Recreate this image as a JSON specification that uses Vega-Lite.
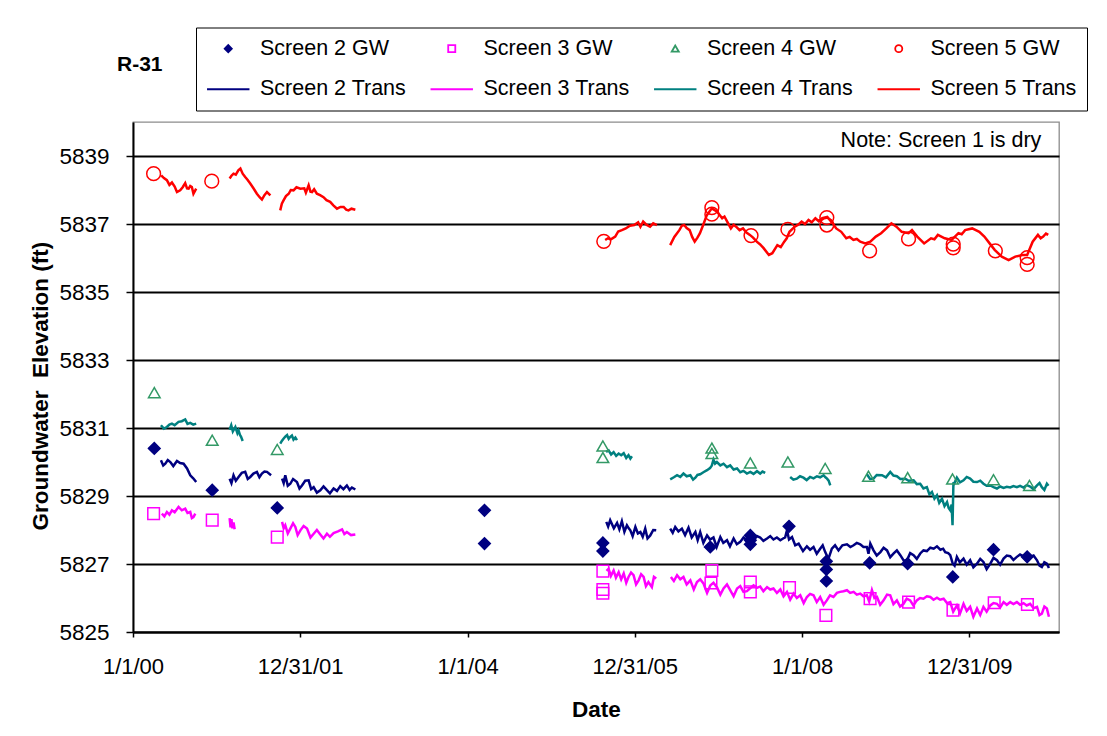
{
"$schema": "https://vega.github.io/schema/vega-lite/v6.json",
"width": 926, "height": 510,
"autosize": {"type": "none"},
"padding": {"left": 133, "top": 122, "right": 48, "bottom": 104},
"background": "white",
"config": {"font": "Liberation Sans", "view": {"stroke": "#8c8c8c", "strokeWidth": 1.3},
 "axisX": {"grid": false, "labelFlush": false, "labelOverlap": false, "domainColor": "black", "domainWidth": 2, "tickColor": "black", "tickWidth": 1.5, "tickSize": 5, "labelFont": "Liberation Sans", "labelFontSize": 22, "labelColor": "black", "labelPadding": 19, "titleFont": "Liberation Sans", "titleFontSize": 22.5, "titleFontWeight": "bold", "titleColor": "black", "titleY": 84, "titleBaseline": "alphabetic"},
 "axisY": {"grid": true, "gridColor": "black", "gridWidth": 1.8, "domainColor": "black", "domainWidth": 2, "tickColor": "black", "tickWidth": 1.5, "tickSize": 7, "labelFont": "Liberation Sans", "labelFontSize": 22.5, "labelColor": "black", "labelPadding": 17, "titleFont": "Liberation Sans", "titleFontSize": 22.5, "titleFontWeight": "bold", "titleColor": "black", "titleX": -86, "titleY": 408, "titleAlign": "left", "titleBaseline": "alphabetic", "titleAngle": 270}
},
"title": {"text": "R-31", "anchor": "start", "frame": "group", "dx": -16, "offset": -64.5, "fontSize": 21, "fontWeight": "bold", "color": "black", "font": "Liberation Sans", "baseline": "alphabetic"},
"datasets": {
"gw": [
{"s":"Screen 2 GW","d":"2000-04-03","v":5830.40},{"s":"Screen 2 GW","d":"2000-12-12","v":5829.17},{"s":"Screen 2 GW","d":"2001-09-22","v":5828.65},{"s":"Screen 2 GW","d":"2004-03-15","v":5828.58},{"s":"Screen 2 GW","d":"2004-03-15","v":5827.60},{"s":"Screen 2 GW","d":"2005-08-14","v":5827.62},{"s":"Screen 2 GW","d":"2005-08-14","v":5827.38},{"s":"Screen 2 GW","d":"2006-11-26","v":5827.50},{"s":"Screen 2 GW","d":"2007-05-20","v":5827.84},{"s":"Screen 2 GW","d":"2007-05-20","v":5827.70},{"s":"Screen 2 GW","d":"2007-05-20","v":5827.58},{"s":"Screen 2 GW","d":"2007-11-05","v":5828.11},{"s":"Screen 2 GW","d":"2008-04-16","v":5827.08},{"s":"Screen 2 GW","d":"2008-04-16","v":5826.84},{"s":"Screen 2 GW","d":"2008-04-16","v":5826.50},{"s":"Screen 2 GW","d":"2008-10-22","v":5827.03},{"s":"Screen 2 GW","d":"2009-04-06","v":5827.01},{"s":"Screen 2 GW","d":"2009-10-20","v":5826.62},{"s":"Screen 2 GW","d":"2010-04-16","v":5827.42},{"s":"Screen 2 GW","d":"2010-09-10","v":5827.21},
{"s":"Screen 3 GW","d":"2000-03-31","v":5828.48},{"s":"Screen 3 GW","d":"2000-12-12","v":5828.29},{"s":"Screen 3 GW","d":"2001-09-22","v":5827.79},{"s":"Screen 3 GW","d":"2005-08-14","v":5826.79},{"s":"Screen 3 GW","d":"2005-08-14","v":5826.25},{"s":"Screen 3 GW","d":"2005-08-14","v":5826.14},{"s":"Screen 3 GW","d":"2006-12-03","v":5826.81},{"s":"Screen 3 GW","d":"2006-11-29","v":5826.44},{"s":"Screen 3 GW","d":"2007-05-20","v":5826.47},{"s":"Screen 3 GW","d":"2007-05-20","v":5826.18},{"s":"Screen 3 GW","d":"2007-11-07","v":5826.31},{"s":"Screen 3 GW","d":"2008-04-14","v":5825.49},{"s":"Screen 3 GW","d":"2008-10-24","v":5825.98},{"s":"Screen 3 GW","d":"2009-04-10","v":5825.88},{"s":"Screen 3 GW","d":"2009-10-21","v":5825.64},{"s":"Screen 3 GW","d":"2010-04-19","v":5825.86},{"s":"Screen 3 GW","d":"2010-09-11","v":5825.81},
{"s":"Screen 4 GW","d":"2000-04-03","v":5832.04},{"s":"Screen 4 GW","d":"2000-12-12","v":5830.64},{"s":"Screen 4 GW","d":"2001-09-22","v":5830.37},{"s":"Screen 4 GW","d":"2005-08-14","v":5830.47},{"s":"Screen 4 GW","d":"2005-08-14","v":5830.13},{"s":"Screen 4 GW","d":"2006-12-03","v":5830.41},{"s":"Screen 4 GW","d":"2006-12-03","v":5830.25},{"s":"Screen 4 GW","d":"2007-05-20","v":5829.97},{"s":"Screen 4 GW","d":"2007-10-31","v":5830.00},{"s":"Screen 4 GW","d":"2008-04-11","v":5829.81},{"s":"Screen 4 GW","d":"2008-10-17","v":5829.58},{"s":"Screen 4 GW","d":"2009-04-06","v":5829.54},{"s":"Screen 4 GW","d":"2009-10-19","v":5829.50},{"s":"Screen 4 GW","d":"2010-04-16","v":5829.48},{"s":"Screen 4 GW","d":"2010-09-20","v":5829.31}
],
"gw5": [
{"s":"Screen 5 GW","d":"2000-03-31","v":5838.48},{"s":"Screen 5 GW","d":"2000-12-10","v":5838.26},{"s":"Screen 5 GW","d":"2005-08-18","v":5836.49},{"s":"Screen 5 GW","d":"2006-12-03","v":5837.48},{"s":"Screen 5 GW","d":"2006-12-03","v":5837.29},{"s":"Screen 5 GW","d":"2007-05-23","v":5836.66},{"s":"Screen 5 GW","d":"2007-10-31","v":5836.84},{"s":"Screen 5 GW","d":"2008-04-18","v":5837.19},{"s":"Screen 5 GW","d":"2008-04-18","v":5836.97},{"s":"Screen 5 GW","d":"2008-10-22","v":5836.21},{"s":"Screen 5 GW","d":"2009-04-10","v":5836.56},{"s":"Screen 5 GW","d":"2009-10-22","v":5836.41},{"s":"Screen 5 GW","d":"2009-10-22","v":5836.30},{"s":"Screen 5 GW","d":"2010-04-24","v":5836.21},{"s":"Screen 5 GW","d":"2010-09-10","v":5836.01},{"s":"Screen 5 GW","d":"2010-09-10","v":5835.81}
],
"s2t": [
{"d":"2000-05-02","v":5830.05,"g":1},{"d":"2000-05-12","v":5829.90,"g":1},{"d":"2000-05-21","v":5829.95,"g":1},{"d":"2000-06-01","v":5830.06,"g":1},{"d":"2000-06-12","v":5830.00,"g":1},{"d":"2000-06-25","v":5829.88,"g":1},{"d":"2000-07-11","v":5830.03,"g":1},{"d":"2000-07-25","v":5829.97,"g":1},{"d":"2000-08-09","v":5829.95,"g":1},{"d":"2000-08-24","v":5829.81,"g":1},{"d":"2000-09-07","v":5829.61,"g":1},{"d":"2000-09-20","v":5829.52,"g":1},{"d":"2000-10-03","v":5829.41,"g":1},
{"d":"2001-02-26","v":5829.51,"g":2},{"d":"2001-03-06","v":5829.38,"g":2},{"d":"2001-03-15","v":5829.61,"g":2},{"d":"2001-03-25","v":5829.45,"g":2},{"d":"2001-04-06","v":5829.56,"g":2},{"d":"2001-04-20","v":5829.68,"g":2},{"d":"2001-05-05","v":5829.71,"g":2},{"d":"2001-05-16","v":5829.50,"g":2},{"d":"2001-05-27","v":5829.56,"g":2},{"d":"2001-06-10","v":5829.66,"g":2},{"d":"2001-06-25","v":5829.71,"g":2},{"d":"2001-07-06","v":5829.55,"g":2},{"d":"2001-07-17","v":5829.66,"g":2},{"d":"2001-07-28","v":5829.72,"g":2},{"d":"2001-08-08","v":5829.71,"g":2},{"d":"2001-08-26","v":5829.61,"g":2},
{"d":"2001-10-13","v":5829.51,"g":3},{"d":"2001-10-20","v":5829.38,"g":3},{"d":"2001-10-27","v":5829.61,"g":3},{"d":"2001-11-07","v":5829.30,"g":3},{"d":"2001-11-18","v":5829.36,"g":3},{"d":"2001-11-30","v":5829.50,"g":3},{"d":"2001-12-17","v":5829.41,"g":3},{"d":"2001-12-28","v":5829.22,"g":3},{"d":"2002-01-08","v":5829.31,"g":3},{"d":"2002-01-22","v":5829.45,"g":3},{"d":"2002-02-06","v":5829.46,"g":3},{"d":"2002-02-17","v":5829.20,"g":3},{"d":"2002-02-28","v":5829.26,"g":3},{"d":"2002-03-14","v":5829.10,"g":3},{"d":"2002-03-29","v":5829.17,"g":3},{"d":"2002-04-12","v":5829.28,"g":3},{"d":"2002-04-27","v":5829.17,"g":3},{"d":"2002-05-10","v":5829.08,"g":3},{"d":"2002-05-26","v":5829.22,"g":3},{"d":"2002-06-10","v":5829.15,"g":3},{"d":"2002-06-24","v":5829.29,"g":3},{"d":"2002-07-08","v":5829.20,"g":3},{"d":"2002-07-23","v":5829.31,"g":3},{"d":"2002-08-04","v":5829.18,"g":3},{"d":"2002-08-14","v":5829.25,"g":3},{"d":"2002-08-29","v":5829.19,"g":3},
{"d":"2005-08-29","v":5828.24,"g":4},{"d":"2005-09-06","v":5828.10,"g":4},{"d":"2005-09-15","v":5828.29,"g":4},{"d":"2005-10-01","v":5828.05,"g":4},{"d":"2005-10-15","v":5828.21,"g":4},{"d":"2005-10-25","v":5828.02,"g":4},{"d":"2005-11-05","v":5828.26,"g":4},{"d":"2005-11-16","v":5827.95,"g":4},{"d":"2005-11-27","v":5828.14,"g":4},{"d":"2005-12-05","v":5828.05,"g":4},{"d":"2005-12-12","v":5827.99,"g":4},{"d":"2005-12-22","v":5827.82,"g":4},{"d":"2006-01-03","v":5828.09,"g":4},{"d":"2006-01-14","v":5827.90,"g":4},{"d":"2006-01-25","v":5827.94,"g":4},{"d":"2006-02-04","v":5827.80,"g":4},{"d":"2006-02-15","v":5828.04,"g":4},{"d":"2006-02-25","v":5827.75,"g":4},{"d":"2006-03-09","v":5827.84,"g":4},{"d":"2006-03-22","v":5828.00,"g":4},{"d":"2006-04-04","v":5827.99,"g":4},
{"d":"2006-06-04","v":5828.04,"g":5},{"d":"2006-06-15","v":5827.92,"g":5},{"d":"2006-06-26","v":5828.09,"g":5},{"d":"2006-07-10","v":5827.96,"g":5},{"d":"2006-07-25","v":5828.04,"g":5},{"d":"2006-08-08","v":5827.85,"g":5},{"d":"2006-08-23","v":5828.07,"g":5},{"d":"2006-09-06","v":5827.78,"g":5},{"d":"2006-09-22","v":5827.94,"g":5},{"d":"2006-10-02","v":5827.70,"g":5},{"d":"2006-10-13","v":5827.94,"g":5},{"d":"2006-10-27","v":5827.62,"g":5},{"d":"2006-11-12","v":5827.84,"g":5},{"d":"2006-11-25","v":5827.72,"g":5},{"d":"2006-12-10","v":5827.78,"g":5},{"d":"2006-12-24","v":5827.50,"g":5},{"d":"2007-01-09","v":5827.79,"g":5},{"d":"2007-01-22","v":5827.62,"g":5},{"d":"2007-02-07","v":5827.70,"g":5},{"d":"2007-02-20","v":5827.52,"g":5},{"d":"2007-03-08","v":5827.75,"g":5},{"d":"2007-03-22","v":5827.58,"g":5},{"d":"2007-04-06","v":5827.65,"g":5},{"d":"2007-04-20","v":5827.78,"g":5},{"d":"2007-05-05","v":5827.70,"g":5},{"d":"2007-05-19","v":5827.55,"g":5},{"d":"2007-06-03","v":5827.70,"g":5},{"d":"2007-06-18","v":5827.82,"g":5},{"d":"2007-07-02","v":5827.78,"g":5},{"d":"2007-07-16","v":5827.68,"g":5},{"d":"2007-08-01","v":5827.75,"g":5},{"d":"2007-08-15","v":5827.82,"g":5},{"d":"2007-08-29","v":5827.72,"g":5},{"d":"2007-09-13","v":5827.78,"g":5},{"d":"2007-09-28","v":5827.70,"g":5},{"d":"2007-10-10","v":5827.75,"g":5},{"d":"2007-10-19","v":5827.78,"g":5},{"d":"2007-10-27","v":5827.99,"g":5},{"d":"2007-11-05","v":5827.72,"g":5},{"d":"2007-11-18","v":5827.79,"g":5},{"d":"2007-12-02","v":5827.55,"g":5},{"d":"2007-12-17","v":5827.60,"g":5},{"d":"2008-01-05","v":5827.38,"g":5},{"d":"2008-01-22","v":5827.52,"g":5},{"d":"2008-02-05","v":5827.42,"g":5},{"d":"2008-02-20","v":5827.50,"g":5},{"d":"2008-03-05","v":5827.30,"g":5},{"d":"2008-03-20","v":5827.45,"g":5},{"d":"2008-03-31","v":5827.55,"g":5},{"d":"2008-04-11","v":5827.35,"g":5},{"d":"2008-04-25","v":5827.15,"g":5},{"d":"2008-05-10","v":5827.45,"g":5},{"d":"2008-05-24","v":5827.55,"g":5},{"d":"2008-06-08","v":5827.40,"g":5},{"d":"2008-06-25","v":5827.55,"g":5},{"d":"2008-07-15","v":5827.58,"g":5},{"d":"2008-07-30","v":5827.50,"g":5},{"d":"2008-08-13","v":5827.55,"g":5},{"d":"2008-08-27","v":5827.62,"g":5},{"d":"2008-09-11","v":5827.58,"g":5},{"d":"2008-09-25","v":5827.50,"g":5},{"d":"2008-10-10","v":5827.50,"g":5},{"d":"2008-10-17","v":5827.30,"g":5},{"d":"2008-10-25","v":5827.60,"g":5},{"d":"2008-11-08","v":5827.40,"g":5},{"d":"2008-11-22","v":5827.25,"g":5},{"d":"2008-12-08","v":5827.35,"g":5},{"d":"2008-12-22","v":5827.48,"g":5},{"d":"2009-01-06","v":5827.40,"g":5},{"d":"2009-01-20","v":5827.20,"g":5},{"d":"2009-02-04","v":5827.31,"g":5},{"d":"2009-02-18","v":5827.40,"g":5},{"d":"2009-03-05","v":5827.26,"g":5},{"d":"2009-03-20","v":5827.10,"g":5},{"d":"2009-04-03","v":5827.11,"g":5},{"d":"2009-04-17","v":5827.32,"g":5},{"d":"2009-05-02","v":5827.26,"g":5},{"d":"2009-05-16","v":5827.15,"g":5},{"d":"2009-05-31","v":5827.31,"g":5},{"d":"2009-06-14","v":5827.40,"g":5},{"d":"2009-06-29","v":5827.38,"g":5},{"d":"2009-07-14","v":5827.48,"g":5},{"d":"2009-07-29","v":5827.45,"g":5},{"d":"2009-08-12","v":5827.52,"g":5},{"d":"2009-08-27","v":5827.42,"g":5},{"d":"2009-09-08","v":5827.45,"g":5},{"d":"2009-09-17","v":5827.35,"g":5},{"d":"2009-09-30","v":5827.32,"g":5},{"d":"2009-10-09","v":5827.26,"g":5},{"d":"2009-10-20","v":5827.01,"g":5},{"d":"2009-10-28","v":5826.95,"g":5},{"d":"2009-11-07","v":5827.21,"g":5},{"d":"2009-11-20","v":5827.05,"g":5},{"d":"2009-12-06","v":5827.16,"g":5},{"d":"2009-12-20","v":5826.98,"g":5},{"d":"2010-01-04","v":5827.11,"g":5},{"d":"2010-01-18","v":5826.90,"g":5},{"d":"2010-02-03","v":5827.01,"g":5},{"d":"2010-02-17","v":5827.15,"g":5},{"d":"2010-03-03","v":5827.06,"g":5},{"d":"2010-03-17","v":5826.85,"g":5},{"d":"2010-04-02","v":5827.01,"g":5},{"d":"2010-04-16","v":5827.18,"g":5},{"d":"2010-05-01","v":5827.11,"g":5},{"d":"2010-05-15","v":5826.98,"g":5},{"d":"2010-05-30","v":5827.16,"g":5},{"d":"2010-06-13","v":5827.25,"g":5},{"d":"2010-06-28","v":5827.23,"g":5},{"d":"2010-07-12","v":5827.12,"g":5},{"d":"2010-07-27","v":5827.21,"g":5},{"d":"2010-08-10","v":5827.28,"g":5},{"d":"2010-08-25","v":5827.23,"g":5},{"d":"2010-09-08","v":5827.15,"g":5},{"d":"2010-09-23","v":5827.21,"g":5},{"d":"2010-10-08","v":5827.25,"g":5},{"d":"2010-10-23","v":5827.11,"g":5},{"d":"2010-11-03","v":5826.95,"g":5},{"d":"2010-11-13","v":5826.91,"g":5},{"d":"2010-11-24","v":5827.05,"g":5},{"d":"2010-12-05","v":5827.01,"g":5},{"d":"2010-12-14","v":5826.88,"g":5}
],
"s3t": [
{"d":"2000-05-06","v":5828.48,"g":1},{"d":"2000-05-17","v":5828.40,"g":1},{"d":"2000-05-28","v":5828.53,"g":1},{"d":"2000-06-08","v":5828.45,"g":1},{"d":"2000-06-19","v":5828.58,"g":1},{"d":"2000-07-01","v":5828.52,"g":1},{"d":"2000-07-18","v":5828.68,"g":1},{"d":"2000-08-01","v":5828.58,"g":1},{"d":"2000-08-16","v":5828.63,"g":1},{"d":"2000-08-26","v":5828.50,"g":1},{"d":"2000-09-07","v":5828.53,"g":1},{"d":"2000-09-14","v":5828.35,"g":1},{"d":"2000-09-21","v":5828.38,"g":1},{"d":"2000-09-29","v":5828.48,"g":1},
{"d":"2001-02-26","v":5828.35,"g":2},{"d":"2001-03-02","v":5828.08,"g":2},{"d":"2001-03-06","v":5828.32,"g":2},{"d":"2001-03-10","v":5828.05,"g":2},{"d":"2001-03-15","v":5828.22,"g":2},{"d":"2001-03-20","v":5828.02,"g":2},
{"d":"2001-10-13","v":5828.24,"g":3},{"d":"2001-10-20","v":5828.05,"g":3},{"d":"2001-10-27","v":5828.14,"g":3},{"d":"2001-11-07","v":5827.90,"g":3},{"d":"2001-11-18","v":5828.04,"g":3},{"d":"2001-11-30","v":5828.20,"g":3},{"d":"2001-12-10","v":5828.09,"g":3},{"d":"2001-12-20","v":5827.85,"g":3},{"d":"2002-01-01","v":5827.99,"g":3},{"d":"2002-01-15","v":5828.12,"g":3},{"d":"2002-01-30","v":5828.04,"g":3},{"d":"2002-02-14","v":5827.78,"g":3},{"d":"2002-02-28","v":5827.89,"g":3},{"d":"2002-03-14","v":5828.00,"g":3},{"d":"2002-03-29","v":5827.87,"g":3},{"d":"2002-04-12","v":5827.75,"g":3},{"d":"2002-04-27","v":5827.89,"g":3},{"d":"2002-05-10","v":5827.80,"g":3},{"d":"2002-05-26","v":5827.91,"g":3},{"d":"2002-06-14","v":5827.96,"g":3},{"d":"2002-07-02","v":5828.02,"g":3},{"d":"2002-07-12","v":5827.88,"g":3},{"d":"2002-07-23","v":5827.94,"g":3},{"d":"2002-08-10","v":5827.85,"g":3},{"d":"2002-08-29","v":5827.87,"g":3},
{"d":"2005-08-30","v":5826.80,"g":4},{"d":"2005-09-08","v":5826.86,"g":4},{"d":"2005-09-18","v":5826.65,"g":4},{"d":"2005-09-30","v":5826.81,"g":4},{"d":"2005-10-10","v":5826.60,"g":4},{"d":"2005-10-22","v":5826.76,"g":4},{"d":"2005-11-02","v":5826.55,"g":4},{"d":"2005-11-13","v":5826.72,"g":4},{"d":"2005-11-24","v":5826.45,"g":4},{"d":"2005-12-04","v":5826.62,"g":4},{"d":"2005-12-15","v":5826.75,"g":4},{"d":"2005-12-26","v":5826.67,"g":4},{"d":"2006-01-06","v":5826.40,"g":4},{"d":"2006-01-17","v":5826.52,"g":4},{"d":"2006-01-28","v":5826.70,"g":4},{"d":"2006-02-08","v":5826.62,"g":4},{"d":"2006-02-18","v":5826.35,"g":4},{"d":"2006-03-01","v":5826.47,"g":4},{"d":"2006-03-16","v":5826.32,"g":4},{"d":"2006-03-25","v":5826.62,"g":4},{"d":"2006-04-04","v":5826.57,"g":4},
{"d":"2006-06-07","v":5826.62,"g":5},{"d":"2006-06-20","v":5826.50,"g":5},{"d":"2006-07-04","v":5826.67,"g":5},{"d":"2006-07-18","v":5826.55,"g":5},{"d":"2006-08-01","v":5826.62,"g":5},{"d":"2006-08-15","v":5826.40,"g":5},{"d":"2006-08-31","v":5826.52,"g":5},{"d":"2006-09-15","v":5826.25,"g":5},{"d":"2006-09-29","v":5826.47,"g":5},{"d":"2006-10-13","v":5826.55,"g":5},{"d":"2006-10-28","v":5826.42,"g":5},{"d":"2006-11-12","v":5826.15,"g":5},{"d":"2006-11-26","v":5826.37,"g":5},{"d":"2006-12-10","v":5826.45,"g":5},{"d":"2006-12-25","v":5826.32,"g":5},{"d":"2007-01-09","v":5826.10,"g":5},{"d":"2007-01-23","v":5826.28,"g":5},{"d":"2007-02-07","v":5826.40,"g":5},{"d":"2007-02-21","v":5826.23,"g":5},{"d":"2007-03-08","v":5826.05,"g":5},{"d":"2007-03-23","v":5826.28,"g":5},{"d":"2007-04-06","v":5826.35,"g":5},{"d":"2007-04-20","v":5826.18,"g":5},{"d":"2007-05-05","v":5826.20,"g":5},{"d":"2007-06-03","v":5826.37,"g":5},{"d":"2007-06-18","v":5826.30,"g":5},{"d":"2007-07-02","v":5826.34,"g":5},{"d":"2007-07-16","v":5826.20,"g":5},{"d":"2007-08-01","v":5826.32,"g":5},{"d":"2007-08-15","v":5826.25,"g":5},{"d":"2007-08-29","v":5826.28,"g":5},{"d":"2007-09-13","v":5826.15,"g":5},{"d":"2007-09-28","v":5826.25,"g":5},{"d":"2007-10-12","v":5826.05,"g":5},{"d":"2007-10-27","v":5826.18,"g":5},{"d":"2007-11-10","v":5825.95,"g":5},{"d":"2007-11-25","v":5826.13,"g":5},{"d":"2007-12-09","v":5826.00,"g":5},{"d":"2007-12-24","v":5826.08,"g":5},{"d":"2008-01-08","v":5825.85,"g":5},{"d":"2008-01-22","v":5826.03,"g":5},{"d":"2008-02-05","v":5826.12,"g":5},{"d":"2008-02-20","v":5826.08,"g":5},{"d":"2008-03-05","v":5825.88,"g":5},{"d":"2008-03-20","v":5826.03,"g":5},{"d":"2008-04-04","v":5825.80,"g":5},{"d":"2008-04-18","v":5825.93,"g":5},{"d":"2008-05-02","v":5826.08,"g":5},{"d":"2008-05-17","v":5826.03,"g":5},{"d":"2008-06-01","v":5826.15,"g":5},{"d":"2008-06-15","v":5826.18,"g":5},{"d":"2008-06-30","v":5826.20,"g":5},{"d":"2008-07-15","v":5826.23,"g":5},{"d":"2008-07-29","v":5826.15,"g":5},{"d":"2008-08-13","v":5826.18,"g":5},{"d":"2008-08-27","v":5826.10,"g":5},{"d":"2008-09-11","v":5826.13,"g":5},{"d":"2008-09-25","v":5826.05,"g":5},{"d":"2008-10-10","v":5826.08,"g":5},{"d":"2008-10-20","v":5825.90,"g":5},{"d":"2008-11-01","v":5826.23,"g":5},{"d":"2008-11-12","v":5826.00,"g":5},{"d":"2008-11-23","v":5826.03,"g":5},{"d":"2008-12-07","v":5825.80,"g":5},{"d":"2008-12-22","v":5825.93,"g":5},{"d":"2009-01-06","v":5826.10,"g":5},{"d":"2009-01-20","v":5826.08,"g":5},{"d":"2009-02-03","v":5825.82,"g":5},{"d":"2009-02-18","v":5825.93,"g":5},{"d":"2009-03-04","v":5825.75,"g":5},{"d":"2009-03-19","v":5825.83,"g":5},{"d":"2009-04-02","v":5825.98,"g":5},{"d":"2009-04-17","v":5825.93,"g":5},{"d":"2009-05-01","v":5825.78,"g":5},{"d":"2009-05-16","v":5825.93,"g":5},{"d":"2009-05-30","v":5826.00,"g":5},{"d":"2009-06-14","v":5825.98,"g":5},{"d":"2009-06-29","v":5826.05,"g":5},{"d":"2009-07-14","v":5826.03,"g":5},{"d":"2009-07-28","v":5825.95,"g":5},{"d":"2009-08-12","v":5826.01,"g":5},{"d":"2009-08-26","v":5825.95,"g":5},{"d":"2009-09-10","v":5825.98,"g":5},{"d":"2009-09-25","v":5825.85,"g":5},{"d":"2009-10-09","v":5825.88,"g":5},{"d":"2009-10-22","v":5825.60,"g":5},{"d":"2009-11-07","v":5825.78,"g":5},{"d":"2009-11-21","v":5825.55,"g":5},{"d":"2009-12-06","v":5825.83,"g":5},{"d":"2009-12-20","v":5825.62,"g":5},{"d":"2010-01-04","v":5825.74,"g":5},{"d":"2010-01-18","v":5825.45,"g":5},{"d":"2010-02-03","v":5825.69,"g":5},{"d":"2010-02-17","v":5825.50,"g":5},{"d":"2010-03-03","v":5825.74,"g":5},{"d":"2010-03-17","v":5825.60,"g":5},{"d":"2010-04-02","v":5825.78,"g":5},{"d":"2010-04-16","v":5825.85,"g":5},{"d":"2010-05-01","v":5825.83,"g":5},{"d":"2010-05-15","v":5825.72,"g":5},{"d":"2010-05-30","v":5825.88,"g":5},{"d":"2010-06-13","v":5825.80,"g":5},{"d":"2010-06-28","v":5825.88,"g":5},{"d":"2010-07-12","v":5825.82,"g":5},{"d":"2010-07-27","v":5825.88,"g":5},{"d":"2010-08-10","v":5825.80,"g":5},{"d":"2010-08-25","v":5825.85,"g":5},{"d":"2010-09-08","v":5825.78,"g":5},{"d":"2010-09-23","v":5825.83,"g":5},{"d":"2010-10-08","v":5825.70,"g":5},{"d":"2010-10-23","v":5825.74,"g":5},{"d":"2010-11-03","v":5825.50,"g":5},{"d":"2010-11-13","v":5825.54,"g":5},{"d":"2010-11-24","v":5825.75,"g":5},{"d":"2010-12-05","v":5825.69,"g":5},{"d":"2010-12-14","v":5825.45,"g":5}
],
"s4t": [
{"d":"2000-05-02","v":5831.08,"g":1},{"d":"2000-05-15","v":5830.98,"g":1},{"d":"2000-05-28","v":5831.03,"g":1},{"d":"2000-06-08","v":5831.10,"g":1},{"d":"2000-06-19","v":5831.13,"g":1},{"d":"2000-07-01","v":5831.08,"g":1},{"d":"2000-07-18","v":5831.18,"g":1},{"d":"2000-08-01","v":5831.20,"g":1},{"d":"2000-08-16","v":5831.25,"g":1},{"d":"2000-08-26","v":5831.12,"g":1},{"d":"2000-09-07","v":5831.15,"g":1},{"d":"2000-09-20","v":5831.10,"g":1},{"d":"2000-10-03","v":5831.13,"g":1},
{"d":"2001-02-26","v":5830.95,"g":2},{"d":"2001-03-05","v":5831.08,"g":2},{"d":"2001-03-12","v":5830.90,"g":2},{"d":"2001-03-23","v":5831.03,"g":2},{"d":"2001-04-01","v":5830.85,"g":2},{"d":"2001-04-06","v":5830.93,"g":2},{"d":"2001-04-12","v":5830.80,"g":2},{"d":"2001-04-17","v":5830.74,"g":2},{"d":"2001-04-24","v":5830.62,"g":2},
{"d":"2001-10-05","v":5830.54,"g":3},{"d":"2001-10-12","v":5830.62,"g":3},{"d":"2001-10-20","v":5830.69,"g":3},{"d":"2001-10-28","v":5830.75,"g":3},{"d":"2001-11-04","v":5830.79,"g":3},{"d":"2001-11-11","v":5830.68,"g":3},{"d":"2001-11-18","v":5830.74,"g":3},{"d":"2001-11-25","v":5830.78,"g":3},{"d":"2001-12-02","v":5830.66,"g":3},{"d":"2001-12-10","v":5830.72,"g":3},{"d":"2001-12-17","v":5830.64,"g":3},
{"d":"2005-08-28","v":5830.30,"g":4},{"d":"2005-09-08","v":5830.34,"g":4},{"d":"2005-09-19","v":5830.22,"g":4},{"d":"2005-09-30","v":5830.29,"g":4},{"d":"2005-10-11","v":5830.18,"g":4},{"d":"2005-10-22","v":5830.25,"g":4},{"d":"2005-11-02","v":5830.20,"g":4},{"d":"2005-11-13","v":5830.26,"g":4},{"d":"2005-11-24","v":5830.12,"g":4},{"d":"2005-12-04","v":5830.20,"g":4},{"d":"2005-12-12","v":5830.10,"g":4},{"d":"2005-12-19","v":5830.17,"g":4},
{"d":"2006-06-04","v":5829.49,"g":5},{"d":"2006-06-20","v":5829.55,"g":5},{"d":"2006-07-04","v":5829.61,"g":5},{"d":"2006-07-18","v":5829.56,"g":5},{"d":"2006-08-01","v":5829.66,"g":5},{"d":"2006-08-15","v":5829.58,"g":5},{"d":"2006-08-31","v":5829.61,"g":5},{"d":"2006-09-12","v":5829.48,"g":5},{"d":"2006-09-22","v":5829.54,"g":5},{"d":"2006-10-01","v":5829.62,"g":5},{"d":"2006-10-13","v":5829.64,"g":5},{"d":"2006-10-27","v":5829.70,"g":5},{"d":"2006-11-12","v":5829.76,"g":5},{"d":"2006-11-25","v":5829.82,"g":5},{"d":"2006-12-03","v":5829.90,"g":5},{"d":"2006-12-10","v":5830.07,"g":5},{"d":"2006-12-17","v":5829.95,"g":5},{"d":"2006-12-25","v":5830.00,"g":5},{"d":"2007-01-09","v":5829.90,"g":5},{"d":"2007-01-23","v":5829.95,"g":5},{"d":"2007-02-07","v":5829.85,"g":5},{"d":"2007-02-21","v":5829.90,"g":5},{"d":"2007-03-08","v":5829.78,"g":5},{"d":"2007-03-23","v":5829.81,"g":5},{"d":"2007-04-06","v":5829.70,"g":5},{"d":"2007-04-20","v":5829.74,"g":5},{"d":"2007-05-05","v":5829.66,"g":5},{"d":"2007-05-20","v":5829.71,"g":5},{"d":"2007-06-03","v":5829.65,"g":5},{"d":"2007-06-18","v":5829.73,"g":5},{"d":"2007-07-02","v":5829.66,"g":5},{"d":"2007-07-12","v":5829.72,"g":5},{"d":"2007-07-24","v":5829.68,"g":5},
{"d":"2007-11-10","v":5829.56,"g":6},{"d":"2007-11-24","v":5829.48,"g":6},{"d":"2007-12-09","v":5829.51,"g":6},{"d":"2007-12-23","v":5829.58,"g":6},{"d":"2008-01-07","v":5829.54,"g":6},{"d":"2008-01-21","v":5829.47,"g":6},{"d":"2008-02-05","v":5829.56,"g":6},{"d":"2008-02-20","v":5829.52,"g":6},{"d":"2008-03-06","v":5829.58,"g":6},{"d":"2008-03-20","v":5829.55,"g":6},{"d":"2008-04-04","v":5829.61,"g":6},{"d":"2008-04-12","v":5829.55,"g":6},{"d":"2008-04-19","v":5829.51,"g":6},{"d":"2008-04-26","v":5829.45,"g":6},{"d":"2008-05-03","v":5829.31,"g":6},
{"d":"2008-10-10","v":5829.64,"g":7},{"d":"2008-10-24","v":5829.50,"g":7},{"d":"2008-11-08","v":5829.51,"g":7},{"d":"2008-11-22","v":5829.62,"g":7},{"d":"2008-12-15","v":5829.61,"g":7},{"d":"2009-01-01","v":5829.55,"g":7},{"d":"2009-01-20","v":5829.71,"g":7},{"d":"2009-02-03","v":5829.60,"g":7},{"d":"2009-02-18","v":5829.58,"g":7},{"d":"2009-03-05","v":5829.50,"g":7},{"d":"2009-03-27","v":5829.51,"g":7},{"d":"2009-04-10","v":5829.45,"g":7},{"d":"2009-05-02","v":5829.46,"g":7},{"d":"2009-05-16","v":5829.35,"g":7},{"d":"2009-05-31","v":5829.36,"g":7},{"d":"2009-06-14","v":5829.22,"g":7},{"d":"2009-06-29","v":5829.26,"g":7},{"d":"2009-07-10","v":5829.05,"g":7},{"d":"2009-07-21","v":5829.12,"g":7},{"d":"2009-08-01","v":5828.92,"g":7},{"d":"2009-08-12","v":5829.02,"g":7},{"d":"2009-08-22","v":5828.80,"g":7},{"d":"2009-09-03","v":5828.92,"g":7},{"d":"2009-09-14","v":5828.70,"g":7},{"d":"2009-09-25","v":5828.82,"g":7},{"d":"2009-10-02","v":5828.65,"g":7},{"d":"2009-10-09","v":5828.58,"g":7},{"d":"2009-10-15","v":5828.75,"g":7},{"d":"2009-10-19","v":5828.14,"g":7},{"d":"2009-10-23","v":5829.40,"g":7},{"d":"2009-10-26","v":5829.36,"g":7},{"d":"2009-11-07","v":5829.54,"g":7},{"d":"2009-11-21","v":5829.40,"g":7},{"d":"2009-12-06","v":5829.46,"g":7},{"d":"2009-12-20","v":5829.56,"g":7},{"d":"2010-01-04","v":5829.51,"g":7},{"d":"2010-01-18","v":5829.42,"g":7},{"d":"2010-02-03","v":5829.41,"g":7},{"d":"2010-02-17","v":5829.45,"g":7},{"d":"2010-03-03","v":5829.36,"g":7},{"d":"2010-03-17","v":5829.30,"g":7},{"d":"2010-04-02","v":5829.31,"g":7},{"d":"2010-04-16","v":5829.26,"g":7},{"d":"2010-05-01","v":5829.22,"g":7},{"d":"2010-05-15","v":5829.28,"g":7},{"d":"2010-05-30","v":5829.24,"g":7},{"d":"2010-06-13","v":5829.27,"g":7},{"d":"2010-06-28","v":5829.25,"g":7},{"d":"2010-07-12","v":5829.29,"g":7},{"d":"2010-07-27","v":5829.26,"g":7},{"d":"2010-08-10","v":5829.30,"g":7},{"d":"2010-08-25","v":5829.25,"g":7},{"d":"2010-09-08","v":5829.32,"g":7},{"d":"2010-09-23","v":5829.28,"g":7},{"d":"2010-10-08","v":5829.20,"g":7},{"d":"2010-10-23","v":5829.31,"g":7},{"d":"2010-11-03","v":5829.38,"g":7},{"d":"2010-11-13","v":5829.26,"g":7},{"d":"2010-11-24","v":5829.18,"g":7},{"d":"2010-12-05","v":5829.36,"g":7},{"d":"2010-12-12","v":5829.30,"g":7}
],
"s5t": [
{"d":"2000-05-03","v":5838.43,"g":1},{"d":"2000-05-15","v":5838.35,"g":1},{"d":"2000-05-28","v":5838.29,"g":1},{"d":"2000-06-08","v":5838.15,"g":1},{"d":"2000-06-19","v":5838.22,"g":1},{"d":"2000-07-01","v":5838.10,"g":1},{"d":"2000-07-11","v":5837.94,"g":1},{"d":"2000-07-25","v":5837.99,"g":1},{"d":"2000-08-05","v":5838.08,"g":1},{"d":"2000-08-16","v":5838.20,"g":1},{"d":"2000-08-24","v":5838.05,"g":1},{"d":"2000-08-31","v":5838.04,"g":1},{"d":"2000-09-07","v":5838.12,"g":1},{"d":"2000-09-14","v":5838.09,"g":1},{"d":"2000-09-21","v":5837.89,"g":1},{"d":"2000-10-03","v":5838.04,"g":1},
{"d":"2001-02-26","v":5838.34,"g":2},{"d":"2001-03-06","v":5838.42,"g":2},{"d":"2001-03-15","v":5838.48,"g":2},{"d":"2001-03-25","v":5838.45,"g":2},{"d":"2001-04-05","v":5838.58,"g":2},{"d":"2001-04-14","v":5838.63,"g":2},{"d":"2001-04-24","v":5838.48,"g":2},{"d":"2001-05-05","v":5838.38,"g":2},{"d":"2001-05-15","v":5838.30,"g":2},{"d":"2001-05-27","v":5838.19,"g":2},{"d":"2001-06-10","v":5838.05,"g":2},{"d":"2001-06-25","v":5837.89,"g":2},{"d":"2001-07-08","v":5837.78,"g":2},{"d":"2001-07-17","v":5837.72,"g":2},{"d":"2001-07-28","v":5837.85,"g":2},{"d":"2001-08-08","v":5837.94,"g":2},{"d":"2001-08-23","v":5837.84,"g":2},
{"d":"2001-10-05","v":5837.40,"g":3},{"d":"2001-10-12","v":5837.60,"g":3},{"d":"2001-10-20","v":5837.70,"g":3},{"d":"2001-10-30","v":5837.82,"g":3},{"d":"2001-11-11","v":5837.89,"g":3},{"d":"2001-11-20","v":5838.00,"g":3},{"d":"2001-12-02","v":5837.99,"g":3},{"d":"2001-12-15","v":5838.08,"g":3},{"d":"2002-01-01","v":5838.04,"g":3},{"d":"2002-01-18","v":5838.05,"g":3},{"d":"2002-01-25","v":5837.92,"g":3},{"d":"2002-02-06","v":5838.14,"g":3},{"d":"2002-02-14","v":5837.95,"g":3},{"d":"2002-02-21","v":5837.94,"g":3},{"d":"2002-03-02","v":5838.02,"g":3},{"d":"2002-03-14","v":5837.89,"g":3},{"d":"2002-03-28","v":5837.85,"g":3},{"d":"2002-04-12","v":5837.79,"g":3},{"d":"2002-04-25","v":5837.70,"g":3},{"d":"2002-05-11","v":5837.65,"g":3},{"d":"2002-05-25","v":5837.55,"g":3},{"d":"2002-06-10","v":5837.45,"g":3},{"d":"2002-06-25","v":5837.50,"g":3},{"d":"2002-07-09","v":5837.50,"g":3},{"d":"2002-07-20","v":5837.42,"g":3},{"d":"2002-07-30","v":5837.40,"g":3},{"d":"2002-08-12","v":5837.45,"g":3},{"d":"2002-08-29","v":5837.42,"g":3},
{"d":"2005-08-24","v":5836.53,"g":4},{"d":"2005-09-05","v":5836.58,"g":4},{"d":"2005-09-18","v":5836.55,"g":4},{"d":"2005-10-07","v":5836.63,"g":4},{"d":"2005-10-20","v":5836.78,"g":4},{"d":"2005-11-05","v":5836.82,"g":4},{"d":"2005-11-22","v":5836.87,"g":4},{"d":"2005-12-10","v":5836.95,"g":4},{"d":"2005-12-29","v":5836.97,"g":4},{"d":"2006-01-15","v":5837.05,"g":4},{"d":"2006-01-25","v":5836.92,"g":4},{"d":"2006-02-06","v":5837.07,"g":4},{"d":"2006-02-20","v":5836.98,"g":4},{"d":"2006-03-08","v":5836.92,"g":4},{"d":"2006-03-22","v":5837.02,"g":4},{"d":"2006-04-07","v":5836.97,"g":4},
{"d":"2006-06-04","v":5836.38,"g":5},{"d":"2006-06-22","v":5836.62,"g":5},{"d":"2006-07-14","v":5836.82,"g":5},{"d":"2006-07-25","v":5836.95,"g":5},{"d":"2006-08-04","v":5836.97,"g":5},{"d":"2006-08-15","v":5836.88,"g":5},{"d":"2006-08-28","v":5836.82,"g":5},{"d":"2006-09-08","v":5836.62,"g":5},{"d":"2006-09-19","v":5836.48,"g":5},{"d":"2006-10-01","v":5836.60,"g":5},{"d":"2006-10-12","v":5836.73,"g":5},{"d":"2006-10-26","v":5836.97,"g":5},{"d":"2006-11-11","v":5837.26,"g":5},{"d":"2006-11-22","v":5837.36,"g":5},{"d":"2006-12-03","v":5837.46,"g":5},{"d":"2006-12-26","v":5837.36,"g":5},{"d":"2007-01-17","v":5837.17,"g":5},{"d":"2007-01-27","v":5837.22,"g":5},{"d":"2007-02-08","v":5837.07,"g":5},{"d":"2007-02-24","v":5836.87,"g":5},{"d":"2007-03-08","v":5836.98,"g":5},{"d":"2007-03-19","v":5836.92,"g":5},{"d":"2007-04-03","v":5836.82,"g":5},{"d":"2007-04-18","v":5836.87,"g":5},{"d":"2007-05-03","v":5836.75,"g":5},{"d":"2007-05-18","v":5836.68,"g":5},{"d":"2007-06-01","v":5836.60,"g":5},{"d":"2007-06-17","v":5836.48,"g":5},{"d":"2007-07-02","v":5836.40,"g":5},{"d":"2007-07-17","v":5836.29,"g":5},{"d":"2007-08-09","v":5836.09,"g":5},{"d":"2007-08-24","v":5836.14,"g":5},{"d":"2007-09-15","v":5836.38,"g":5},{"d":"2007-09-30","v":5836.32,"g":5},{"d":"2007-10-15","v":5836.48,"g":5},{"d":"2007-10-26","v":5836.58,"g":5},{"d":"2007-11-07","v":5836.77,"g":5},{"d":"2007-11-30","v":5836.92,"g":5},{"d":"2007-12-15","v":5836.98,"g":5},{"d":"2007-12-30","v":5837.07,"g":5},{"d":"2008-01-14","v":5837.00,"g":5},{"d":"2008-01-29","v":5837.12,"g":5},{"d":"2008-02-12","v":5837.05,"g":5},{"d":"2008-02-28","v":5837.17,"g":5},{"d":"2008-03-14","v":5837.08,"g":5},{"d":"2008-03-29","v":5837.17,"g":5},{"d":"2008-04-20","v":5837.21,"g":5},{"d":"2008-05-14","v":5837.02,"g":5},{"d":"2008-05-29","v":5836.87,"g":5},{"d":"2008-06-20","v":5836.77,"g":5},{"d":"2008-07-12","v":5836.58,"g":5},{"d":"2008-07-27","v":5836.62,"g":5},{"d":"2008-08-12","v":5836.53,"g":5},{"d":"2008-08-27","v":5836.56,"g":5},{"d":"2008-09-11","v":5836.48,"g":5},{"d":"2008-10-03","v":5836.43,"g":5},{"d":"2008-10-25","v":5836.48,"g":5},{"d":"2008-11-18","v":5836.63,"g":5},{"d":"2008-12-11","v":5836.73,"g":5},{"d":"2009-01-03","v":5836.87,"g":5},{"d":"2009-01-25","v":5837.02,"g":5},{"d":"2009-02-16","v":5836.92,"g":5},{"d":"2009-03-11","v":5836.77,"g":5},{"d":"2009-04-10","v":5836.73,"g":5},{"d":"2009-04-25","v":5836.82,"g":5},{"d":"2009-05-18","v":5836.63,"g":5},{"d":"2009-06-17","v":5836.43,"g":5},{"d":"2009-07-17","v":5836.58,"g":5},{"d":"2009-08-01","v":5836.55,"g":5},{"d":"2009-08-16","v":5836.68,"g":5},{"d":"2009-09-15","v":5836.58,"g":5},{"d":"2009-10-15","v":5836.53,"g":5},{"d":"2009-11-14","v":5836.73,"g":5},{"d":"2009-11-28","v":5836.70,"g":5},{"d":"2009-12-13","v":5836.82,"g":5},{"d":"2010-01-13","v":5836.87,"g":5},{"d":"2010-02-13","v":5836.77,"g":5},{"d":"2010-03-07","v":5836.63,"g":5},{"d":"2010-03-30","v":5836.43,"g":5},{"d":"2010-04-21","v":5836.24,"g":5},{"d":"2010-05-22","v":5836.04,"g":5},{"d":"2010-06-21","v":5835.94,"g":5},{"d":"2010-07-20","v":5836.04,"g":5},{"d":"2010-08-20","v":5836.09,"g":5},{"d":"2010-09-10","v":5836.09,"g":5},{"d":"2010-10-04","v":5836.48,"g":5},{"d":"2010-10-27","v":5836.68,"g":5},{"d":"2010-11-08","v":5836.58,"g":5},{"d":"2010-11-19","v":5836.63,"g":5},{"d":"2010-12-01","v":5836.72,"g":5},{"d":"2010-12-11","v":5836.68,"g":5}
]
},
"layer": [
{"data": {"name": "s2t"}, "mark": {"type": "line", "strokeWidth": 2.5},
 "encoding": {
  "x": {"field": "d", "type": "temporal", "title": "Date",
   "scale": {"type": "utc", "domain": [{"year": 2000, "month": 1, "date": 1, "utc": true}, {"year": 2011, "month": 1, "date": 27, "utc": true}]},
   "axis": {"values": [{"year": 2000, "month": 1, "date": 1, "utc": true}, {"year": 2001, "month": 12, "date": 31, "utc": true}, {"year": 2004, "month": 1, "date": 1, "utc": true}, {"year": 2005, "month": 12, "date": 31, "utc": true}, {"year": 2008, "month": 1, "date": 1, "utc": true}, {"year": 2009, "month": 12, "date": 31, "utc": true}], "format": "%-m/%-d/%y"}},
  "y": {"field": "v", "type": "quantitative", "title": "Groundwater\u00a0 Elevation (ft)",
   "scale": {"domain": [5825, 5840], "nice": false, "zero": false},
   "axis": {"values": [5825, 5827, 5829, 5831, 5833, 5835, 5837, 5839], "format": "d"}},
  "detail": {"field": "g", "type": "nominal"}, "stroke": {"datum": "Screen 2 Trans", "type": "nominal"}}},
{"data": {"name": "s3t"}, "mark": {"type": "line", "strokeWidth": 2.5}, "encoding": {"x": {"field": "d", "type": "temporal", "title": "Date"}, "y": {"field": "v", "type": "quantitative", "title": "Groundwater\u00a0 Elevation (ft)"}, "detail": {"field": "g", "type": "nominal"}, "stroke": {"datum": "Screen 3 Trans", "type": "nominal"}}},
{"data": {"name": "s4t"}, "mark": {"type": "line", "strokeWidth": 2.5}, "encoding": {"x": {"field": "d", "type": "temporal", "title": "Date"}, "y": {"field": "v", "type": "quantitative", "title": "Groundwater\u00a0 Elevation (ft)"}, "detail": {"field": "g", "type": "nominal"}, "stroke": {"datum": "Screen 4 Trans", "type": "nominal"}}},
{"data": {"name": "s5t"}, "mark": {"type": "line", "strokeWidth": 2.5}, "encoding": {"x": {"field": "d", "type": "temporal", "title": "Date"}, "y": {"field": "v", "type": "quantitative", "title": "Groundwater\u00a0 Elevation (ft)"}, "detail": {"field": "g", "type": "nominal"}, "stroke": {"datum": "Screen 5 Trans", "type": "nominal"}}},
{"data": {"name": "gw"}, "mark": {"type": "point", "size": 135, "strokeWidth": 1.5, "opacity": 1},
 "encoding": {
  "x": {"field": "d", "type": "temporal", "title": "Date"}, "y": {"field": "v", "type": "quantitative", "title": "Groundwater\u00a0 Elevation (ft)"},
  "stroke": {"field": "s", "type": "nominal", "scale": {"domain": ["Screen 2 GW","Screen 3 GW","Screen 4 GW","Screen 5 GW","Screen 2 Trans","Screen 3 Trans","Screen 4 Trans","Screen 5 Trans"], "range": ["#000080","#FF00FF","#339966","#FF0000","#000080","#FF00FF","#008080","#FF0000"]},
   "legend": {"orient": "none", "legendX": 63, "legendY": -94.5, "direction": "horizontal", "columns": 4, "title": null, "padding": 10, "strokeColor": "black", "fillColor": "white", "symbolSize": 50, "symbolStrokeWidth": 1.8, "symbolOffset": 11.5, "labelFont": "Liberation Sans", "labelFontSize": 21.5, "labelColor": "black", "labelOffset": 21, "labelLimit": 300, "columnPadding": 19.5, "rowPadding": 18, "gridAlign": "each", "encode": {"legend": {"update": {"strokeWidth": {"value": 2}}}}}},
  "fill": {"field": "s", "type": "nominal", "scale": {"domain": ["Screen 2 GW","Screen 3 GW","Screen 4 GW","Screen 5 GW","Screen 2 Trans","Screen 3 Trans","Screen 4 Trans","Screen 5 Trans"], "range": ["#000080","transparent","transparent","transparent","transparent","transparent","transparent","transparent"]},
   "legend": {"orient": "none", "legendX": 63, "legendY": -94.5, "direction": "horizontal", "columns": 4, "title": null}},
  "shape": {"field": "s", "type": "nominal", "scale": {"domain": ["Screen 2 GW","Screen 3 GW","Screen 4 GW","Screen 5 GW","Screen 2 Trans","Screen 3 Trans","Screen 4 Trans","Screen 5 Trans"], "range": ["diamond","square","triangle-up","circle","M-6,0H6","M-6,0H6","M-6,0H6","M-6,0H6"]},
   "legend": {"orient": "none", "legendX": 63, "legendY": -94.5, "direction": "horizontal", "columns": 4, "title": null}}
 }},
{"data": {"name": "gw5"}, "mark": {"type": "point", "size": 190, "strokeWidth": 1.5, "opacity": 1},
 "encoding": {
  "x": {"field": "d", "type": "temporal", "title": "Date"}, "y": {"field": "v", "type": "quantitative", "title": "Groundwater\u00a0 Elevation (ft)"},
  "stroke": {"field": "s", "type": "nominal"},
  "fill": {"field": "s", "type": "nominal"},
  "shape": {"field": "s", "type": "nominal"}
 }},
{"data": {"values": [{}]}, "mark": {"type": "text", "text": "Note: Screen 1 is dry", "align": "right", "baseline": "alphabetic", "font": "Liberation Sans", "fontSize": 21.5, "color": "black"},
 "encoding": {"x": {"datum": {"year": 2010, "month": 11, "date": 11, "utc": true}, "type": "temporal"}, "y": {"datum": 5839.26, "type": "quantitative"}}}
]
}
